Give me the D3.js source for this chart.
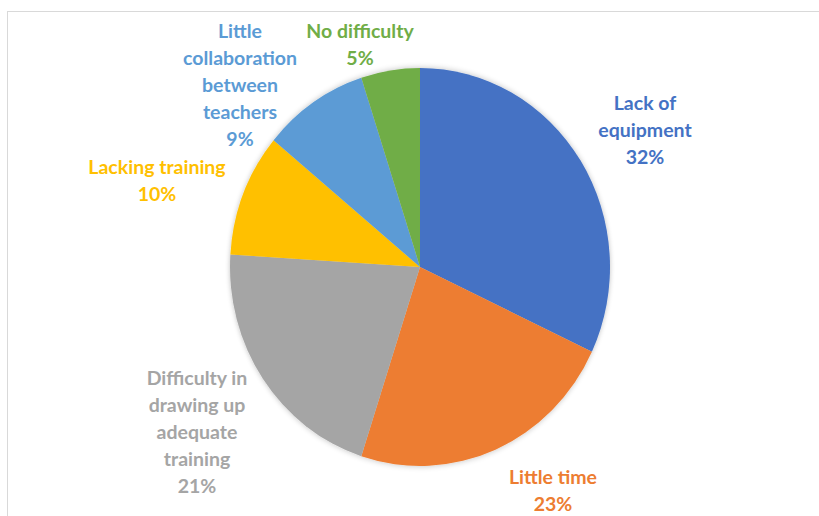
<!DOCTYPE html>
<html>
<head>
<meta charset="utf-8">
<script src="https://cdn.jsdelivr.net/npm/d3@7/dist/d3.min.js"></script>
<style>
  html, body { margin: 0; padding: 0; background: #fff; }
  svg { display: block; }
  .lbl { font-family: Lato, "Open Sans", sans-serif; font-weight: 700; font-size: 19.5px; }
</style>
</head>
<body>
<svg id="chart" width="819" height="516"></svg>
<script>
// Difficulties reported, share of responses (%)
const categories = [
  "Lack of equipment",
  "Little time",
  "Difficulty in drawing up adequate training",
  "Lacking training",
  "Little collaboration between teachers",
  "No difficulty"
];
const values = [32, 23, 21, 10, 9, 5];
const colors = ["#4472C4", "#ED7D31", "#A5A5A5", "#FFC000", "#5B9BD5", "#70AD47"];
// Label text broken into lines as displayed
const labelLines = [
  ["Lack of", "equipment"],
  ["Little time"],
  ["Difficulty in", "drawing up", "adequate", "training"],
  ["Lacking training"],
  ["Little", "collaboration", "between", "teachers"],
  ["No difficulty"]
];
// Label anchor (centre x, first-line centre y)
const labelPos = [
  [645, 103],
  [553, 477],
  [197, 378],
  [157, 167],
  [240, 31],
  [360, 31]
];

const svg = d3.select("#chart");
const W = 819, H = 516;

// chart frame
svg.append("rect")
  .attr("x", 7.5).attr("y", 11.5)
  .attr("width", W + 20).attr("height", H + 20)
  .attr("fill", "#fff")
  .attr("stroke", "#D9D9D9").attr("stroke-width", 1);

const defs = svg.append("defs");
const f = defs.append("filter").attr("id", "soft")
  .attr("x", "-10%").attr("y", "-10%").attr("width", "120%").attr("height", "120%");
f.append("feGaussianBlur").attr("in", "SourceAlpha").attr("stdDeviation", 3).attr("result", "b");
f.append("feComponentTransfer").attr("in", "b").attr("result", "s")
  .append("feFuncA").attr("type", "linear").attr("slope", 0.25);
const m = f.append("feMerge");
m.append("feMergeNode").attr("in", "s");
m.append("feMergeNode").attr("in", "SourceGraphic");

const cx = 420, cy = 267, ry = 199, rx = 190;

const pie = d3.pie().sort(null).value(d => d);
const arc = d3.arc().innerRadius(0).outerRadius(ry);

const g = svg.append("g")
  .attr("transform", `translate(${cx},${cy}) scale(${rx / ry},1)`)
  .attr("filter", "url(#soft)");

g.selectAll("path")
  .data(pie(values))
  .join("path")
  .attr("d", arc)
  .attr("fill", (d, i) => colors[i]);

const lineH = 27;
const labels = svg.append("g");
categories.forEach((c, i) => {
  const lines = labelLines[i].concat([values[i] + "%"]);
  const t = labels.append("text")
    .attr("class", "lbl")
    .attr("text-anchor", "middle")
    .attr("fill", colors[i]);
  lines.forEach((ln, k) => {
    t.append("tspan")
      .attr("x", labelPos[i][0])
      .attr("y", labelPos[i][1] + k * lineH)
      .attr("dy", "0.35em")
      .text(ln);
  });
});
</script>
</body>
</html>
